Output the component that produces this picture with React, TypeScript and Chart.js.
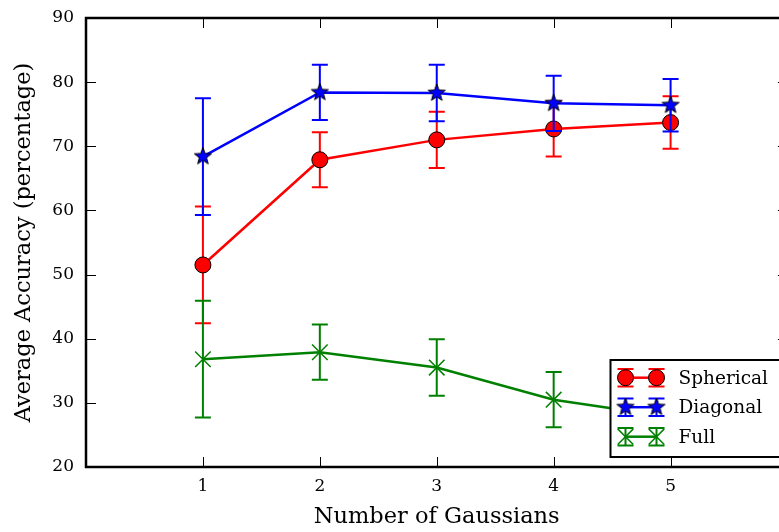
import { useEffect, useRef } from "react";
import { Chart, registerables } from "chart.js";

Chart.register(...registerables);

// Mean accuracy (%) and error half-widths per number of Gaussians
const gaussians = [1, 2, 3, 4, 5];
const sphericalMean = [51.5, 67.9, 71.0, 72.7, 73.7];
const sphericalErr = [9.1, 4.3, 4.4, 4.3, 4.1];
const diagonalMean = [68.4, 78.4, 78.3, 76.7, 76.4];
const diagonalErr = [9.1, 4.3, 4.4, 4.3, 4.1];
const fullMean = [36.8, 37.9, 35.5, 30.5, 27.8];
const fullErr = [9.1, 4.3, 4.4, 4.3, 4.2];

const xTicks = [1, 2, 3, 4, 5];
const yTicks = [20, 30, 40, 50, 60, 70, 80, 90];
const seriesNames = ["Spherical", "Diagonal", "Full"];

const FONT = "'DejaVu Serif', serif";
const RED = "#ff0000";
const BLUE = "#0000ff";
const GREEN = "#008000";

function makeStar(size: number, outer: number): HTMLCanvasElement {
  const c = document.createElement("canvas");
  c.width = size;
  c.height = size;
  const g = c.getContext("2d")!;
  const cx = size / 2;
  const cy = size / 2;
  const inner = outer * 0.42;
  g.beginPath();
  for (let i = 0; i < 10; i++) {
    const r = i % 2 === 0 ? outer : inner;
    const a = -Math.PI / 2 + (i * Math.PI) / 5;
    const px = cx + r * Math.cos(a);
    const py = cy + r * Math.sin(a);
    if (i === 0) g.moveTo(px, py);
    else g.lineTo(px, py);
  }
  g.closePath();
  g.fillStyle = BLUE;
  g.fill();
  g.lineWidth = 1;
  g.strokeStyle = "#000";
  g.stroke();
  return c;
}

function drawErrorBar(ctx: CanvasRenderingContext2D, px: number, hi: number, lo: number, color: string) {
  ctx.strokeStyle = color;
  ctx.lineWidth = 2;
  ctx.beginPath();
  ctx.moveTo(px, hi);
  ctx.lineTo(px, lo);
  ctx.moveTo(px - 8, hi);
  ctx.lineTo(px + 8, hi);
  ctx.moveTo(px - 8, lo);
  ctx.lineTo(px + 8, lo);
  ctx.stroke();
}

function drawMarker(ctx: CanvasRenderingContext2D, kind: string, px: number, py: number, star: HTMLCanvasElement) {
  if (kind === "circle") {
    ctx.beginPath();
    ctx.arc(px, py, 8, 0, Math.PI * 2);
    ctx.fillStyle = RED;
    ctx.fill();
    ctx.lineWidth = 1;
    ctx.strokeStyle = "#000";
    ctx.stroke();
  } else if (kind === "star") {
    ctx.drawImage(star, px - star.width / 2, py - star.height / 2);
  } else {
    const d = 7.8;
    ctx.strokeStyle = GREEN;
    ctx.lineWidth = 1.5;
    ctx.beginPath();
    ctx.moveTo(px - d, py - d);
    ctx.lineTo(px + d, py + d);
    ctx.moveTo(px - d, py + d);
    ctx.lineTo(px + d, py - d);
    ctx.stroke();
  }
}

export default function App() {
  const canvasRef = useRef<HTMLCanvasElement | null>(null);

  useEffect(() => {
    const canvas = canvasRef.current;
    if (!canvas) return;
    const star = makeStar(20, 9);

    const errorBars = {
      id: "errorBars",
      beforeDatasetDraw(chart: any, args: any) {
        const ds = chart.data.datasets[args.index];
        const errs: number[] | undefined = ds.errors;
        if (!errs) return;
        const { ctx } = chart;
        const xs = chart.scales.x;
        const ys = chart.scales.y;
        ctx.save();
        ds.data.forEach((p: { x: number; y: number }, i: number) => {
          const px = xs.getPixelForValue(p.x);
          const hi = ys.getPixelForValue(p.y + errs[i]);
          const lo = ys.getPixelForValue(p.y - errs[i]);
          drawErrorBar(ctx, px, hi, lo, ds.borderColor);
        });
        ctx.restore();
      },
    };

    const frame = {
      id: "frame",
      afterDatasetsDraw(chart: any) {
        const { ctx, chartArea } = chart;
        const { left, right, top, bottom } = chartArea;
        const xs = chart.scales.x;
        const ys = chart.scales.y;
        ctx.save();
        ctx.strokeStyle = "#000";
        ctx.lineWidth = 1;
        ctx.beginPath();
        xTicks.forEach((t) => {
          const px = Math.round(xs.getPixelForValue(t)) + 0.5;
          ctx.moveTo(px, bottom);
          ctx.lineTo(px, bottom - 10);
          ctx.moveTo(px, top);
          ctx.lineTo(px, top + 10);
        });
        yTicks.forEach((t) => {
          const py = Math.round(ys.getPixelForValue(t)) + 0.5;
          ctx.moveTo(left, py);
          ctx.lineTo(left + 10, py);
          ctx.moveTo(right, py);
          ctx.lineTo(right - 9.6, py);
        });
        ctx.stroke();
        ctx.lineWidth = 2.5;
        ctx.strokeRect(left, top, right - left, bottom - top);
        ctx.restore();
      },
    };

    const legendBox = {
      id: "legendBox",
      afterDraw(chart: any) {
        const { ctx, chartArea } = chart;
        const bx = chartArea.right - 177;
        const by = chartArea.bottom - 107;
        const bw = 200;
        const bh = 97;
        const kinds = ["circle", "star", "x"];
        const colors = [RED, BLUE, GREEN];
        ctx.save();
        ctx.fillStyle = "#fff";
        ctx.fillRect(bx, by, bw, bh);
        ctx.lineWidth = 2;
        ctx.strokeStyle = "#000";
        ctx.strokeRect(bx, by, bw, bh);
        seriesNames.forEach((name, i) => {
          const ry = by + 17.7 + i * 29.5;
          const x1 = bx + 15;
          const x2 = bx + 46;
          ctx.strokeStyle = colors[i];
          ctx.lineWidth = 2.5;
          ctx.beginPath();
          ctx.moveTo(x1, ry);
          ctx.lineTo(x2, ry);
          ctx.stroke();
          [x1, x2].forEach((mx) => {
            drawErrorBar(ctx, mx, ry - 8.7, ry + 8.7, colors[i]);
            drawMarker(ctx, kinds[i], mx, ry, star);
          });
          ctx.fillStyle = "#000";
          ctx.font = `18.5px ${FONT}`;
          ctx.textAlign = "left";
          ctx.textBaseline = "middle";
          ctx.fillText(name, bx + 68, ry + 1);
        });
        ctx.restore();
      },
    };

    const toPoints = (vals: number[]) => gaussians.map((g, i) => ({ x: g, y: vals[i] }));

    const chart = new Chart(canvas, {
      type: "line",
      data: {
        datasets: [
          {
            label: seriesNames[2],
            data: toPoints(fullMean),
            errors: fullErr,
            borderColor: GREEN,
            backgroundColor: GREEN,
            borderWidth: 2.5,
            pointStyle: "crossRot",
            pointRadius: 11,
            pointBorderWidth: 1.5,
            pointBorderColor: GREEN,
            tension: 0,
          } as any,
          {
            label: seriesNames[1],
            data: toPoints(diagonalMean),
            errors: diagonalErr,
            borderColor: BLUE,
            backgroundColor: BLUE,
            borderWidth: 2.5,
            pointStyle: star,
            pointRadius: 9,
            tension: 0,
          } as any,
          {
            label: seriesNames[0],
            data: toPoints(sphericalMean),
            errors: sphericalErr,
            borderColor: RED,
            backgroundColor: RED,
            borderWidth: 2.5,
            pointStyle: "circle",
            pointRadius: 8,
            pointBackgroundColor: RED,
            pointBorderColor: "#000",
            pointBorderWidth: 1,
            tension: 0,
          } as any,
        ],
      },
      options: {
        animation: false,
        responsive: false,
        devicePixelRatio: 1,
        layout: { padding: { top: 18, right: 12, left: 0, bottom: 0 } },
        plugins: { legend: { display: false }, tooltip: { enabled: false } },
        scales: {
          x: {
            type: "linear",
            min: 0,
            max: 6,
            grid: { display: false, drawTicks: false },
            border: { display: false },
            afterBuildTicks: (s: any) => {
              s.ticks = xTicks.map((v) => ({ value: v }));
            },
            afterFit: (s: any) => {
              s.height = 65;
              s.paddingLeft = 0;
              s.paddingRight = 0;
            },
            ticks: { color: "#000", font: { family: FONT, size: 17 }, padding: 9, maxRotation: 0 },
            title: {
              display: true,
              text: "Number of Gaussians",
              color: "#000",
              font: { family: FONT, size: 22.5 },
              padding: { top: 0, bottom: 1 },
            },
          },
          y: {
            min: 20,
            max: 90,
            grid: { display: false, drawTicks: false },
            border: { display: false },
            afterBuildTicks: (s: any) => {
              s.ticks = yTicks.map((v) => ({ value: v }));
            },
            afterFit: (s: any) => {
              s.width = 86;
              s.paddingTop = 0;
              s.paddingBottom = 0;
            },
            ticks: { color: "#000", font: { family: FONT, size: 17 }, padding: 12 },
            title: {
              display: true,
              text: "Average Accuracy (percentage)",
              color: "#000",
              font: { family: FONT, size: 22.5 },
              padding: { top: 11, bottom: 0 },
            },
          },
        },
      },
      plugins: [errorBars, frame, legendBox],
    });

    return () => chart.destroy();
  }, []);

  return (
    <div style={{ position: "fixed", left: 0, top: 0, width: 779, height: 532, overflow: "hidden", background: "#fff" }}>
      <canvas ref={canvasRef} width={800} height={532} style={{ display: "block" }} />
    </div>
  );
}
